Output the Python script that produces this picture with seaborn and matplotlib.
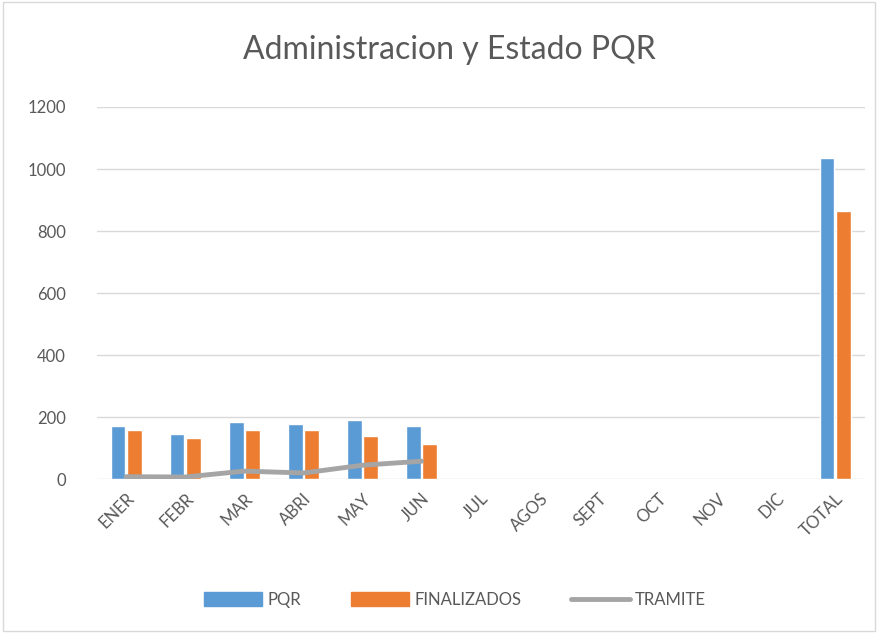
import matplotlib
matplotlib.use("Agg")
import matplotlib.pyplot as plt
import numpy as np
import pandas as pd
import seaborn as sns
from matplotlib.patches import Patch, Rectangle
from matplotlib.lines import Line2D

months = ["ENER", "FEBR", "MAR", "ABRI", "MAY", "JUN", "JUL", "AGOS",
          "SEPT", "OCT", "NOV", "DIC", "TOTAL"]
pqr_months = ["ENER", "FEBR", "MAR", "ABRI", "MAY", "JUN", "TOTAL"]
pqr = [171, 145, 184, 177, 190, 171, 1035]
finalizados = [158, 132, 158, 158, 139, 113, 866]
tramite_months = ["ENER", "FEBR", "MAR", "ABRI", "MAY", "JUN"]
tramite = [8, 7, 26, 20, 45, 58]

BLUE = "#5B9BD5"
ORANGE = "#ED7D31"
GRAY = "#A5A5A5"
TEXT = "#595959"

sns.set_theme(style="white")
plt.rcParams["font.family"] = ["Lato", "DejaVu Sans"]

df = pd.DataFrame({
    "mes": pqr_months * 2,
    "valor": pqr + finalizados,
    "serie": ["PQR"] * len(pqr) + ["FINALIZADOS"] * len(finalizados),
})

fig = plt.figure(figsize=(8.78, 6.33), dpi=100)
ax = fig.add_axes([0.110, 0.243, 0.875, 0.588])

sns.barplot(data=df, x="mes", y="valor", hue="serie", order=months,
            hue_order=["PQR", "FINALIZADOS"], palette=[BLUE, ORANGE],
            saturation=1, width=0.55, gap=0.1, ax=ax, legend=False, errorbar=None)

xpos = [months.index(m) for m in tramite_months]
ax.plot(xpos, tramite, color=GRAY, linewidth=3.5, solid_capstyle="round", zorder=4)

ax.set_ylim(0, 1200)
ax.set_xlim(-0.5, len(months) - 0.5)
ax.set_yticks(np.arange(0, 1201, 200))
ax.yaxis.grid(True, color="#D9D9D9", linewidth=1)
ax.set_axisbelow(True)
for s in ax.spines.values():
    s.set_visible(False)
ax.set_xlabel("")
ax.set_ylabel("")
ax.tick_params(axis="y", colors=TEXT, labelsize=12, length=0, pad=22)
ax.tick_params(axis="x", colors=TEXT, labelsize=12, length=0, pad=8)
for lbl in ax.get_xticklabels():
    lbl.set_rotation(45)
    lbl.set_ha("right")
    lbl.set_rotation_mode("anchor")

fig.text(0.512, 0.921, "Administracion y Estado PQR", ha="center", va="center",
         fontsize=23, color=TEXT)

handles = [Patch(color=BLUE, label="PQR"),
           Patch(color=ORANGE, label="FINALIZADOS"),
           Line2D([0], [0], color=GRAY, linewidth=3.5, label="TRAMITE")]
fig.legend(handles=handles, loc="center", bbox_to_anchor=(0.518, 0.052), ncol=3,
           frameon=False, fontsize=12, labelcolor=TEXT, handlelength=3.5,
           handleheight=0.9, columnspacing=3, handletextpad=0.3)

fig.patches.append(Rectangle((0.003, 0.003), 0.994, 0.994, transform=fig.transFigure,
                             fill=False, edgecolor="#D9D9D9", linewidth=1))

fig.savefig("out.png", dpi=100)
